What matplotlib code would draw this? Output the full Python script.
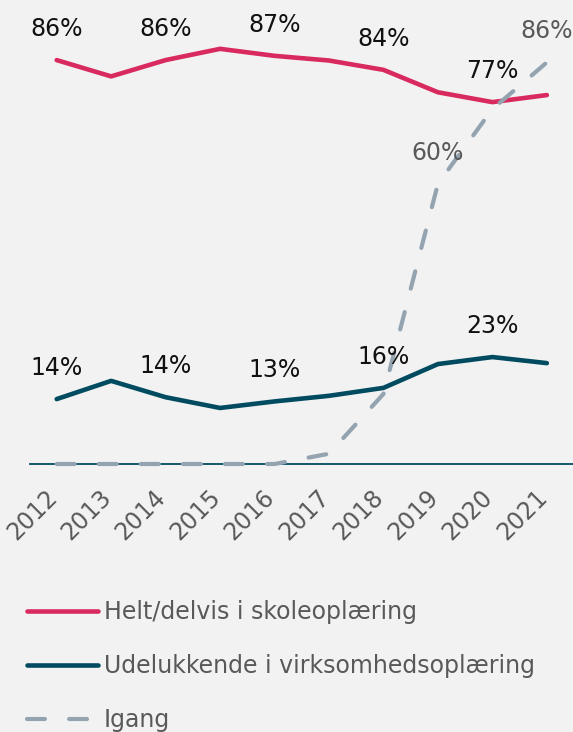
import matplotlib
matplotlib.use("Agg")
import matplotlib.pyplot as plt
from matplotlib.transforms import ScaledTranslation

YEARS = [2012, 2013, 2014, 2015, 2016, 2017, 2018, 2019, 2020, 2021]
SCHOOL = [86.49, 83.0, 86.49, 88.9, 87.4, 86.4, 84.4, 79.6, 77.49, 79.0]
COMPANY = [13.9, 17.8, 14.3, 12.0, 13.4, 14.6, 16.3, 21.4, 22.9, 21.6]
ONGOING = [0, 0, 0, 0, 0, 2.2, 15.0, 60.0, 76.0, 86.0]

SCHOOL_LABEL_YEARS = [2012, 2014, 2016, 2018, 2020]
COMPANY_LABEL_YEARS = [2012, 2014, 2016, 2018, 2020]
ONGOING_LABEL_YEARS = [2019, 2021]

LEGEND = ["Helt/delvis i skoleoplæring", "Udelukkende i virksomhedsoplæring", "Igang"]

RED = "#D92A5F"
NAVY = "#014B60"
GREY = "#94A3B0"
BG = "#F2F2F2"
TXT = "#595959"

plt.rcParams["font.family"] = ["DejaVu Sans"]

fig = plt.figure(figsize=(5.73, 7.32), dpi=100, facecolor=BG)
ax = fig.add_axes([30 / 573, 1 - 464 / 732, 1 - 30 / 573, 464 / 732])
ax.set_facecolor(BG)

l1, = ax.plot(YEARS, SCHOOL, color=RED, lw=3.3, solid_capstyle="round",
              solid_joinstyle="round", zorder=3)
l2, = ax.plot(YEARS, COMPANY, color=NAVY, lw=3.3, solid_capstyle="round",
              solid_joinstyle="round", zorder=3)
l3, = ax.plot(YEARS, ONGOING, color=GREY, lw=3.0, dashes=(4.3, 5.8),
              dash_capstyle="round", zorder=3, clip_on=False)


def add_labels(values, years, color):
    for yr in years:
        v = values[YEARS.index(yr)]
        ax.annotate(f"{round(v)}%", (yr, v), xytext=(0, 31), textcoords="offset pixels",
                    ha="center", va="center", fontsize=17, color=color,
                    annotation_clip=False, zorder=4)


add_labels(SCHOOL, SCHOOL_LABEL_YEARS, "#111111")
add_labels(COMPANY, COMPANY_LABEL_YEARS, "#111111")
add_labels(ONGOING, ONGOING_LABEL_YEARS, TXT)

ax.set_xlim(2011.51, 2021.48)
ax.set_ylim(0, 464 / 4.67)
ax.set_yticks([])
ax.set_xticks(YEARS)
ax.set_xticklabels([str(y) for y in YEARS], rotation=45, ha="right", va="top",
                   fontsize=17, color=TXT)
ax.tick_params(axis="x", length=0, pad=15)
shift = ScaledTranslation(5 / 100, 0, fig.dpi_scale_trans)
for lbl in ax.get_xticklabels():
    lbl.set_transform(lbl.get_transform() + shift)
for side in ["top", "right", "left"]:
    ax.spines[side].set_visible(False)
ax.spines["bottom"].set_color(NAVY)
ax.spines["bottom"].set_linewidth(1.3)

fig.legend([l1, l2, l3], LEGEND, loc="upper left", bbox_to_anchor=(27 / 573, 1 - 600 / 732),
           frameon=False, fontsize=17, labelcolor=TXT, handlelength=3.0,
           handletextpad=0.25, labelspacing=1.28, borderpad=0, borderaxespad=0)

fig.savefig("out.png", dpi=100, facecolor=BG)
